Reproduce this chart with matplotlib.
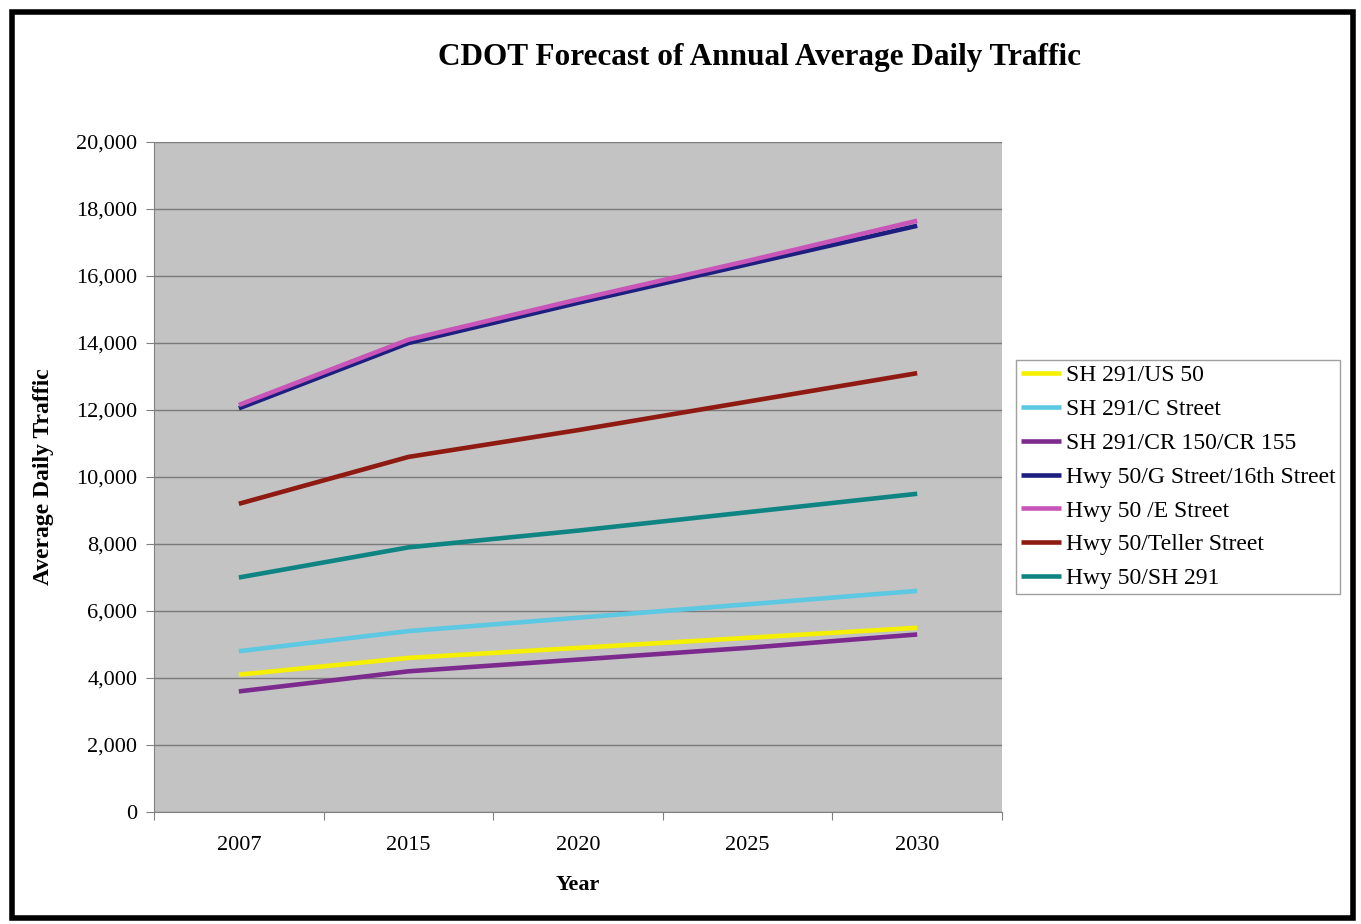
import matplotlib

matplotlib.use("Agg")
import matplotlib.pyplot as plt
from matplotlib.patches import Rectangle
from matplotlib.ticker import FuncFormatter, FixedLocator

plt.rcParams["font.family"] = ["Liberation Serif", "DejaVu Serif"]

years = ["2007", "2015", "2020", "2025", "2030"]

sh291_us50 = [4100, 4600, 4900, 5200, 5500]
sh291_c_street = [4800, 5400, 5800, 6200, 6600]
sh291_cr150 = [3600, 4200, 4550, 4900, 5300]
hwy50_g_street = [12050, 14000, 15200, 16350, 17500]
hwy50_e_street = [12150, 14100, 15300, 16450, 17650]
hwy50_teller = [9200, 10600, 11400, 12250, 13100]
hwy50_sh291 = [7000, 7900, 8400, 8950, 9500]

series = [
    ("SH 291/US 50", sh291_us50, "#f5f000"),
    ("SH 291/C Street", sh291_c_street, "#5cc8e2"),
    ("SH 291/CR 150/CR 155", sh291_cr150, "#7d2a8e"),
    ("Hwy 50/G Street/16th Street", hwy50_g_street, "#1c1f80"),
    ("Hwy 50 /E Street", hwy50_e_street, "#c955b8"),
    ("Hwy 50/Teller Street", hwy50_teller, "#8e1a12"),
    ("Hwy 50/SH 291", hwy50_sh291, "#0f8583"),
]

fig = plt.figure(figsize=(13.61, 9.24), dpi=100)
fig.patches.append(Rectangle((0.009, 0.007), 0.985, 0.98, transform=fig.transFigure,
                             fill=False, edgecolor="black", linewidth=4))

ax = fig.add_axes([0.1132, 0.1212, 0.623, 0.7251])
ax.set_facecolor("#c3c3c3")

x = list(range(len(years)))
for name, vals, color in series:
    ax.plot(x, vals, color=color, linewidth=3.3, label=name, solid_capstyle="butt")

ax.set_xlim(-0.5, len(years) - 0.5)
ax.set_ylim(0, 20000)
ax.set_yticks(range(0, 20001, 2000))
ax.yaxis.set_major_formatter(FuncFormatter(lambda v, p: f"{int(v):,}"))
ax.yaxis.grid(True, color="#7a7a7a", linewidth=1)
ax.set_axisbelow(True)

# category boundaries get tick marks, category centres get labels
ax.xaxis.set_major_locator(FixedLocator([i - 0.5 for i in range(len(years) + 1)]))
ax.xaxis.set_major_formatter(FuncFormatter(lambda v, p: ""))
ax.xaxis.set_minor_locator(FixedLocator(x))
ax.set_xticklabels(years, minor=True)
ax.tick_params(axis="x", which="minor", length=0, pad=17, labelsize=16)
ax.tick_params(axis="x", which="major", length=6, color="#808080")
ax.tick_params(axis="y", length=6, color="#808080", labelsize=16, pad=6)

for side in ["top", "right"]:
    ax.spines[side].set_visible(False)
ax.spines["left"].set_color("#808080")
ax.spines["bottom"].set_color("#808080")

ax.set_xlabel("Year", fontsize=16, fontweight="bold", labelpad=15)
ax.set_ylabel("Average Daily Traffic", fontsize=17, fontweight="bold", labelpad=16)

fig.text(0.558, 0.938, "CDOT Forecast of Annual Average Daily Traffic",
         ha="center", va="center", fontsize=22.5, fontweight="bold")

leg = ax.legend(loc="center left", bbox_to_anchor=(1.017, 0.50), fontsize=17,
                frameon=True, fancybox=False, handlelength=1.7, handletextpad=0.2,
                labelspacing=0.52, borderpad=0.2, borderaxespad=0)
leg.get_frame().set_edgecolor("#888888")
leg.get_frame().set_linewidth(1)

fig.savefig("out.png", dpi=100)
